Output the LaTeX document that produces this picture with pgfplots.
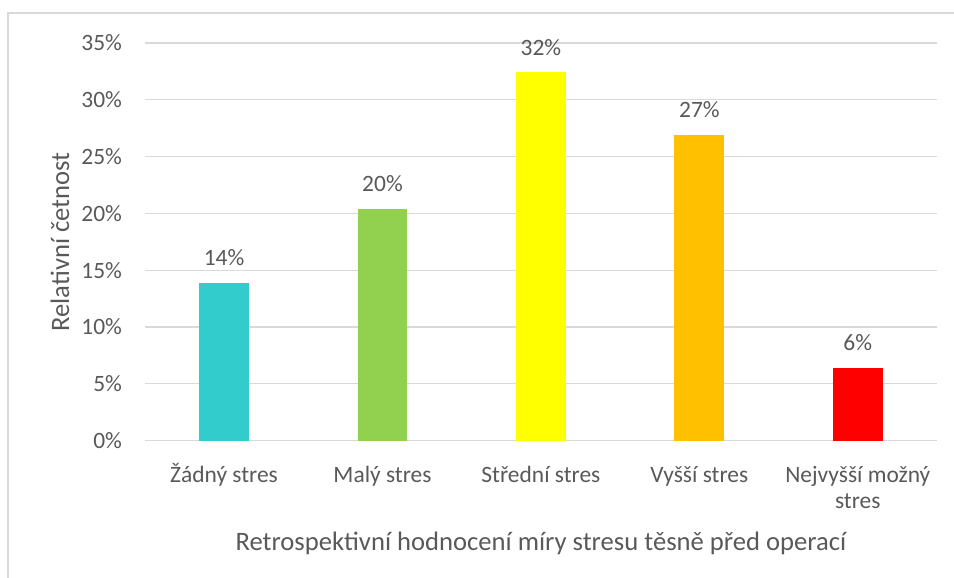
\documentclass[border=0pt]{standalone}
\usepackage{fontspec}
\setmainfont{Carlito}
\usepackage{pgfplots}
\pgfplotsset{compat=1.18}

\definecolor{txt}{HTML}{595959}
\definecolor{gridc}{HTML}{D9D9D9}
\definecolor{c1}{HTML}{33CCCC}
\definecolor{c2}{HTML}{92D050}
\definecolor{c3}{HTML}{FFFF00}
\definecolor{c4}{HTML}{FFC000}
\definecolor{c5}{HTML}{FF0000}

\newcommand{\tickfont}{\fontsize{17.6}{20}\selectfont}
\newcommand{\labfont}{\fontsize{20}{24}\selectfont}

\begin{document}
\begin{tikzpicture}[x=1pt,y=1pt]
\begin{axis}[
    at={(0,0)}, anchor=south west,
    scale only axis,
    width=594.75pt, height=298.5pt,
    xmin=-0.5, xmax=4.5,
    ymin=0, ymax=35,
    ybar, bar width=37.5pt, bar shift=0pt,
    axis lines*=left,
    y axis line style={draw=none},
    x axis line style={draw=gridc, line width=0.9pt},
    tick style={draw=none},
    ymajorgrids,
    major grid style={draw=gridc, line width=0.9pt},
    ytick={0,5,...,35},
    yticklabel={\pgfmathprintnumber{\tick}\%},
    /pgf/number format/assume math mode=true,
    yticklabel style={font=\tickfont, text=txt, anchor=east, inner sep=0pt, xshift=-17pt},
    xtick={0,1,2,3,4},
    xticklabels={Žádný stres, Malý stres, Střední stres, Vyšší stres,
        {\begin{tabular}[t]{@{}c@{}}Nejvyšší možný\\stres\end{tabular}}},
    xticklabel style={font=\tickfont, text=txt, anchor=base, inner sep=0pt, yshift=-27pt},
    ylabel={Relativní četnost},
    ylabel style={font=\labfont, text=txt, at={(axis description cs:-0.107,0.5)}, anchor=center},
    xlabel={Retrospektivní hodnocení míry stresu těsně před operací},
    xlabel style={font=\labfont, text=txt, at={(axis description cs:0.5,0)}, anchor=center, yshift=-77pt},
    nodes near coords={\pgfmathprintnumber[fixed,precision=0]{\pgfplotspointmeta}\%},
    every node near coord/.append style={font=\tickfont, text=txt, anchor=base, inner sep=0pt, yshift=12.75pt},
]
\addplot[fill=c1, draw=none] coordinates {(0,13.9)};
\addplot[fill=c2, draw=none] coordinates {(1,20.4)};
\addplot[fill=c3, draw=none] coordinates {(2,32.4)};
\addplot[fill=c4, draw=none] coordinates {(3,26.9)};
\addplot[fill=c5, draw=none] coordinates {(4,6.4)};
\end{axis}
\draw[draw=gridc, line width=1.5pt] (-103.1,-130) -- (-103.1,321) -- (640,321);
\pgfresetboundingbox
\path[use as bounding box] (-108.75,-102.75) rectangle (607.5,330.75);
\end{tikzpicture}
\end{document}
